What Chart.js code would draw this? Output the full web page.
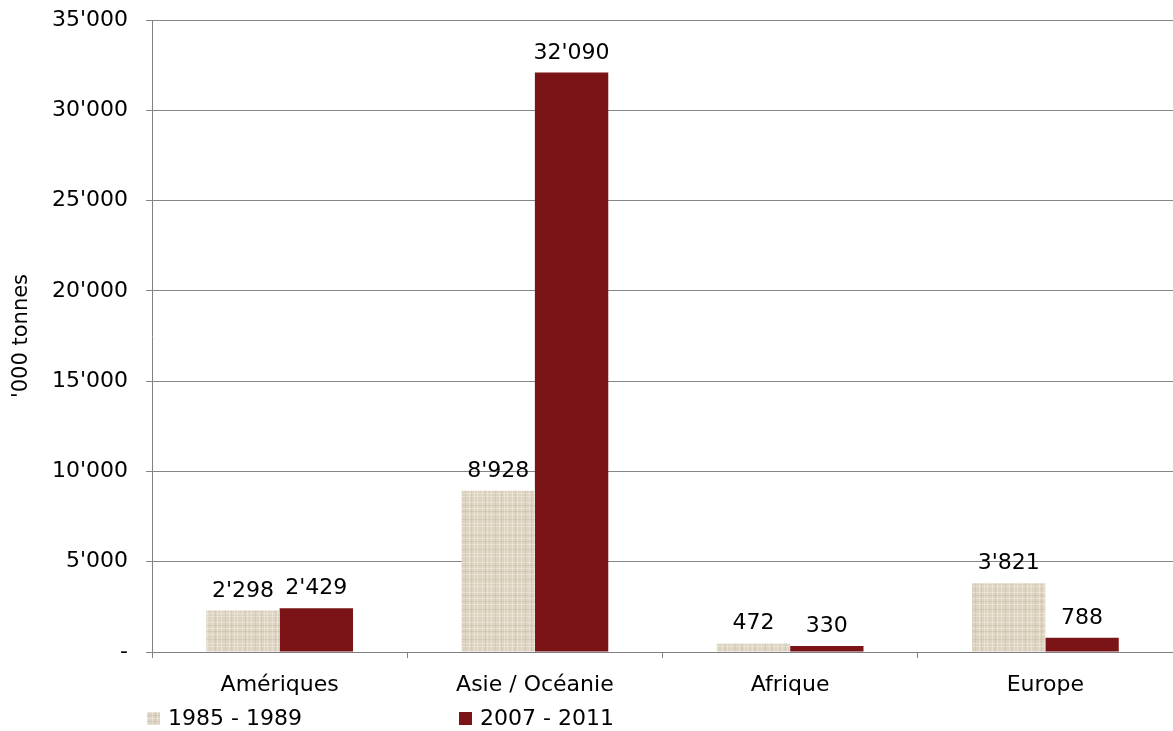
<!DOCTYPE html>
<html>
<head>
<meta charset="utf-8">
<script src="https://cdn.jsdelivr.net/npm/chart.js@4/dist/chart.umd.min.js"></script>
<style>
    html, body { margin: 0; padding: 0; background: #fff; }
    #wrap { width: 1173px; height: 731px; position: relative; }
</style>
</head>
<body>
<div id="wrap"><canvas id="chart"></canvas></div>
<script>
const categories = ["Amériques", "Asie / Océanie", "Afrique", "Europe"];
const seriesNames = ["1985 - 1989", "2007 - 2011"];
const values1985 = [2298, 8928, 472, 3821];
const values2007 = [2429, 32090, 330, 788];
const yTicks = [0, 5000, 10000, 15000, 20000, 25000, 30000, 35000];

const FONT = "'DejaVu Sans', Verdana, sans-serif";
const RED = "#7b1416";

function fmt(v) {
    if (v === 0) return "-";
    return String(v).replace(/\B(?=(\d{3})+(?!\d))/g, "'");
}

// soft linen-like texture for the older series
function makeLinen() {
    const c = document.createElement('canvas');
    c.width = 30; c.height = 30;
    const g = c.getContext('2d');
    g.fillStyle = "#ddd3c1";
    g.fillRect(0, 0, 30, 30);
    g.fillStyle = "rgba(244,239,229,0.5)";
    [2, 7, 11, 19, 24, 27].forEach(p => g.fillRect(p, 0, 1, 30));
    [4, 13, 16, 22, 28].forEach(p => g.fillRect(0, p, 30, 1));
    g.fillStyle = "rgba(200,188,166,0.4)";
    [5, 15, 21].forEach(p => g.fillRect(p, 0, 1, 30));
    [1, 9, 25].forEach(p => g.fillRect(0, p, 30, 1));
    return g.createPattern(c, 'repeat');
}

const beige = makeLinen();

const valueLabels = {
    id: 'valueLabels',
    afterDatasetsDraw(chart) {
        const ctx = chart.ctx;
        ctx.save();
        ctx.font = "22px " + FONT;
        ctx.fillStyle = "#000";
        ctx.textAlign = "center";
        ctx.textBaseline = "alphabetic";
        chart.data.datasets.forEach((ds, i) => {
            chart.getDatasetMeta(i).data.forEach((bar, j) => {
                ctx.fillText(fmt(ds.data[j]), bar.x, bar.y - 14);
            });
        });
        ctx.restore();
    }
};

const bottomLegend = {
    id: 'bottomLegend',
    afterDraw(chart) {
        const ctx = chart.ctx;
        const xs = [147, 459];
        const fills = [beige, RED];
        ctx.save();
        ctx.font = "22px " + FONT;
        ctx.textBaseline = "middle";
        seriesNames.forEach((name, i) => {
            ctx.fillStyle = fills[i];
            ctx.fillRect(xs[i], 712, 13, 13);
            ctx.fillStyle = "#000";
            ctx.fillText(name, xs[i] + 21, 719);
        });
        ctx.restore();
    }
};

new Chart(document.getElementById('chart').getContext('2d'), {
    type: 'bar',
    data: {
        labels: categories,
        datasets: [
            { label: seriesNames[0], data: values1985, backgroundColor: beige },
            { label: seriesNames[1], data: values2007, backgroundColor: RED }
        ]
    },
    options: {
        responsive: true,
        maintainAspectRatio: false,
        animation: false,
        categoryPercentage: 0.575,
        barPercentage: 1,
        layout: { padding: { top: 20, right: 0, left: 0, bottom: 29 } },
        plugins: {
            legend: { display: false },
            tooltip: { enabled: false }
        },
        scales: {
            x: {
                grid: { drawOnChartArea: false, drawTicks: true, tickLength: 6, color: "#808080", offset: true },
                border: { color: "#808080", width: 1 },
                ticks: { color: "#000", font: { family: FONT, size: 22 }, padding: 14 },
                afterFit: (scale) => { scale.height = 50; }
            },
            y: {
                min: 0,
                max: 35000,
                afterBuildTicks: (scale) => { scale.ticks = yTicks.map(v => ({ value: v })); },
                grid: { color: "#868686", tickLength: 6 },
                border: { color: "#808080", width: 1 },
                ticks: { color: "#000", font: { family: FONT, size: 22 }, padding: 18, callback: (v) => fmt(v) },
                title: { display: true, text: "'000 tonnes", color: "#000", font: { family: FONT, size: 21 }, padding: { top: 9, bottom: 0 } },
                afterFit: (scale) => {
                    scale.width = 152;
                    scale.paddingTop = 0;
                    scale.paddingBottom = 0;
                }
            }
        }
    },
    plugins: [valueLabels, bottomLegend]
});
</script>
</body>
</html>
